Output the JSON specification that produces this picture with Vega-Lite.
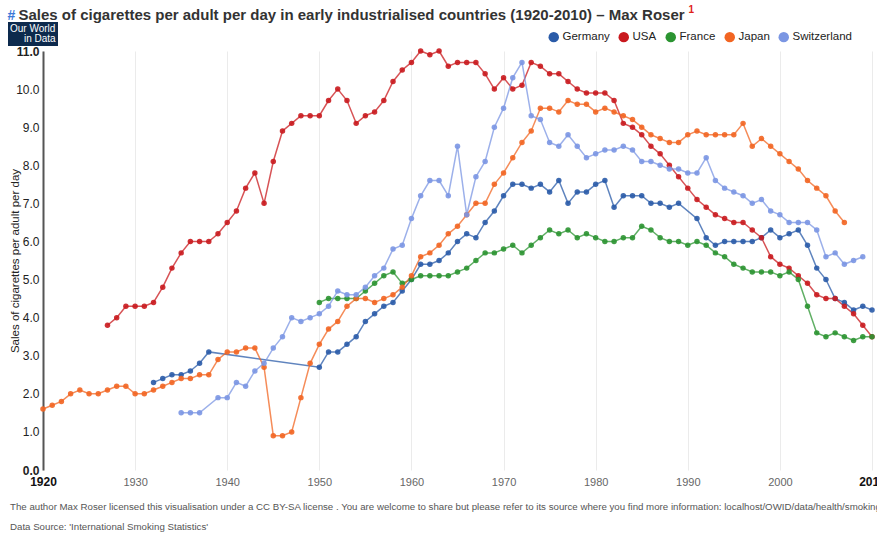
{
  "$schema": "https://vega.github.io/schema/vega-lite/v6.json",
  "width": 829,
  "height": 419,
  "autosize": {"type": "none"},
  "padding": {"left": 43, "top": 51, "right": 5, "bottom": 63},
  "background": "white",
  "config": {"font": "Liberation Sans", "view": {"stroke": null}},
  "title": {
    "text": "The author Max Roser licensed this visualisation under a CC BY-SA license . You are welcome to share but please refer to its source where you  find more information: localhost/OWID/data/health/smoking",
    "subtitle": "Data Source: 'International Smoking Statistics'",
    "orient": "bottom",
    "anchor": "start",
    "frame": "group",
    "dx": -33,
    "offset": 15,
    "font": "Liberation Sans",
    "fontSize": 9.7,
    "fontWeight": "normal",
    "color": "#555555",
    "subtitleFont": "Liberation Sans",
    "subtitleFontSize": 9.7,
    "subtitleColor": "#555555",
    "subtitlePadding": 10
  },
  "data": {
    "values": [
      {"country": "Germany", "year": 1932, "value": 2.3}, {"country": "Germany", "year": 1933, "value": 2.4}, {"country": "Germany", "year": 1934, "value": 2.5}, {"country": "Germany", "year": 1935, "value": 2.5}, {"country": "Germany", "year": 1936, "value": 2.6}, {"country": "Germany", "year": 1937, "value": 2.8}, {"country": "Germany", "year": 1938, "value": 3.1}, {"country": "Germany", "year": 1950, "value": 2.7}, {"country": "Germany", "year": 1951, "value": 3.1}, {"country": "Germany", "year": 1952, "value": 3.1}, {"country": "Germany", "year": 1953, "value": 3.3}, {"country": "Germany", "year": 1954, "value": 3.5}, {"country": "Germany", "year": 1955, "value": 3.9}, {"country": "Germany", "year": 1956, "value": 4.1}, {"country": "Germany", "year": 1957, "value": 4.3}, {"country": "Germany", "year": 1958, "value": 4.4}, {"country": "Germany", "year": 1959, "value": 4.7}, {"country": "Germany", "year": 1960, "value": 5.0}, {"country": "Germany", "year": 1961, "value": 5.4}, {"country": "Germany", "year": 1962, "value": 5.4}, {"country": "Germany", "year": 1963, "value": 5.5}, {"country": "Germany", "year": 1964, "value": 5.7}, {"country": "Germany", "year": 1965, "value": 6.0}, {"country": "Germany", "year": 1966, "value": 6.2}, {"country": "Germany", "year": 1967, "value": 6.1}, {"country": "Germany", "year": 1968, "value": 6.5}, {"country": "Germany", "year": 1969, "value": 6.8}, {"country": "Germany", "year": 1970, "value": 7.2}, {"country": "Germany", "year": 1971, "value": 7.5}, {"country": "Germany", "year": 1972, "value": 7.5}, {"country": "Germany", "year": 1973, "value": 7.4}, {"country": "Germany", "year": 1974, "value": 7.5}, {"country": "Germany", "year": 1975, "value": 7.3}, {"country": "Germany", "year": 1976, "value": 7.6}, {"country": "Germany", "year": 1977, "value": 7.0}, {"country": "Germany", "year": 1978, "value": 7.3}, {"country": "Germany", "year": 1979, "value": 7.3}, {"country": "Germany", "year": 1980, "value": 7.5}, {"country": "Germany", "year": 1981, "value": 7.6}, {"country": "Germany", "year": 1982, "value": 6.9}, {"country": "Germany", "year": 1983, "value": 7.2}, {"country": "Germany", "year": 1984, "value": 7.2}, {"country": "Germany", "year": 1985, "value": 7.2}, {"country": "Germany", "year": 1986, "value": 7.0}, {"country": "Germany", "year": 1987, "value": 7.0}, {"country": "Germany", "year": 1988, "value": 6.9}, {"country": "Germany", "year": 1989, "value": 7.0}, {"country": "Germany", "year": 1991, "value": 6.6}, {"country": "Germany", "year": 1992, "value": 6.1}, {"country": "Germany", "year": 1993, "value": 5.9}, {"country": "Germany", "year": 1994, "value": 6.0}, {"country": "Germany", "year": 1995, "value": 6.0}, {"country": "Germany", "year": 1996, "value": 6.0}, {"country": "Germany", "year": 1997, "value": 6.0}, {"country": "Germany", "year": 1998, "value": 6.1}, {"country": "Germany", "year": 1999, "value": 6.3}, {"country": "Germany", "year": 2000, "value": 6.1}, {"country": "Germany", "year": 2001, "value": 6.2}, {"country": "Germany", "year": 2002, "value": 6.3}, {"country": "Germany", "year": 2003, "value": 5.9}, {"country": "Germany", "year": 2004, "value": 5.3}, {"country": "Germany", "year": 2005, "value": 5.0}, {"country": "Germany", "year": 2006, "value": 4.5}, {"country": "Germany", "year": 2007, "value": 4.4}, {"country": "Germany", "year": 2008, "value": 4.2}, {"country": "Germany", "year": 2009, "value": 4.3}, {"country": "Germany", "year": 2010, "value": 4.2},
      {"country": "USA", "year": 1927, "value": 3.8}, {"country": "USA", "year": 1928, "value": 4.0}, {"country": "USA", "year": 1929, "value": 4.3}, {"country": "USA", "year": 1930, "value": 4.3}, {"country": "USA", "year": 1931, "value": 4.3}, {"country": "USA", "year": 1932, "value": 4.4}, {"country": "USA", "year": 1933, "value": 4.8}, {"country": "USA", "year": 1934, "value": 5.3}, {"country": "USA", "year": 1935, "value": 5.7}, {"country": "USA", "year": 1936, "value": 6.0}, {"country": "USA", "year": 1937, "value": 6.0}, {"country": "USA", "year": 1938, "value": 6.0}, {"country": "USA", "year": 1939, "value": 6.2}, {"country": "USA", "year": 1940, "value": 6.5}, {"country": "USA", "year": 1941, "value": 6.8}, {"country": "USA", "year": 1942, "value": 7.4}, {"country": "USA", "year": 1943, "value": 7.8}, {"country": "USA", "year": 1944, "value": 7.0}, {"country": "USA", "year": 1945, "value": 8.1}, {"country": "USA", "year": 1946, "value": 8.9}, {"country": "USA", "year": 1947, "value": 9.1}, {"country": "USA", "year": 1948, "value": 9.3}, {"country": "USA", "year": 1949, "value": 9.3}, {"country": "USA", "year": 1950, "value": 9.3}, {"country": "USA", "year": 1951, "value": 9.7}, {"country": "USA", "year": 1952, "value": 10.0}, {"country": "USA", "year": 1953, "value": 9.7}, {"country": "USA", "year": 1954, "value": 9.1}, {"country": "USA", "year": 1955, "value": 9.3}, {"country": "USA", "year": 1956, "value": 9.4}, {"country": "USA", "year": 1957, "value": 9.7}, {"country": "USA", "year": 1958, "value": 10.2}, {"country": "USA", "year": 1959, "value": 10.5}, {"country": "USA", "year": 1960, "value": 10.7}, {"country": "USA", "year": 1961, "value": 11.0}, {"country": "USA", "year": 1962, "value": 10.9}, {"country": "USA", "year": 1963, "value": 11.0}, {"country": "USA", "year": 1964, "value": 10.6}, {"country": "USA", "year": 1965, "value": 10.7}, {"country": "USA", "year": 1966, "value": 10.7}, {"country": "USA", "year": 1967, "value": 10.7}, {"country": "USA", "year": 1968, "value": 10.4}, {"country": "USA", "year": 1969, "value": 10.0}, {"country": "USA", "year": 1970, "value": 10.3}, {"country": "USA", "year": 1971, "value": 10.0}, {"country": "USA", "year": 1972, "value": 10.1}, {"country": "USA", "year": 1973, "value": 10.7}, {"country": "USA", "year": 1974, "value": 10.6}, {"country": "USA", "year": 1975, "value": 10.4}, {"country": "USA", "year": 1976, "value": 10.4}, {"country": "USA", "year": 1977, "value": 10.2}, {"country": "USA", "year": 1978, "value": 10.0}, {"country": "USA", "year": 1979, "value": 9.9}, {"country": "USA", "year": 1980, "value": 9.9}, {"country": "USA", "year": 1981, "value": 9.9}, {"country": "USA", "year": 1982, "value": 9.7}, {"country": "USA", "year": 1983, "value": 9.1}, {"country": "USA", "year": 1984, "value": 9.0}, {"country": "USA", "year": 1985, "value": 8.8}, {"country": "USA", "year": 1986, "value": 8.5}, {"country": "USA", "year": 1987, "value": 8.3}, {"country": "USA", "year": 1988, "value": 8.0}, {"country": "USA", "year": 1989, "value": 7.7}, {"country": "USA", "year": 1990, "value": 7.4}, {"country": "USA", "year": 1991, "value": 7.1}, {"country": "USA", "year": 1992, "value": 6.9}, {"country": "USA", "year": 1993, "value": 6.7}, {"country": "USA", "year": 1994, "value": 6.6}, {"country": "USA", "year": 1995, "value": 6.5}, {"country": "USA", "year": 1996, "value": 6.5}, {"country": "USA", "year": 1997, "value": 6.3}, {"country": "USA", "year": 1998, "value": 6.1}, {"country": "USA", "year": 1999, "value": 5.6}, {"country": "USA", "year": 2000, "value": 5.4}, {"country": "USA", "year": 2001, "value": 5.3}, {"country": "USA", "year": 2002, "value": 5.1}, {"country": "USA", "year": 2003, "value": 4.9}, {"country": "USA", "year": 2004, "value": 4.6}, {"country": "USA", "year": 2005, "value": 4.5}, {"country": "USA", "year": 2006, "value": 4.5}, {"country": "USA", "year": 2007, "value": 4.3}, {"country": "USA", "year": 2008, "value": 4.1}, {"country": "USA", "year": 2009, "value": 3.8}, {"country": "USA", "year": 2010, "value": 3.5},
      {"country": "France", "year": 1950, "value": 4.4}, {"country": "France", "year": 1951, "value": 4.5}, {"country": "France", "year": 1952, "value": 4.5}, {"country": "France", "year": 1953, "value": 4.5}, {"country": "France", "year": 1954, "value": 4.5}, {"country": "France", "year": 1955, "value": 4.7}, {"country": "France", "year": 1956, "value": 4.9}, {"country": "France", "year": 1957, "value": 5.1}, {"country": "France", "year": 1958, "value": 5.2}, {"country": "France", "year": 1959, "value": 4.9}, {"country": "France", "year": 1960, "value": 5.0}, {"country": "France", "year": 1961, "value": 5.1}, {"country": "France", "year": 1962, "value": 5.1}, {"country": "France", "year": 1963, "value": 5.1}, {"country": "France", "year": 1964, "value": 5.1}, {"country": "France", "year": 1965, "value": 5.2}, {"country": "France", "year": 1966, "value": 5.3}, {"country": "France", "year": 1967, "value": 5.5}, {"country": "France", "year": 1968, "value": 5.7}, {"country": "France", "year": 1969, "value": 5.7}, {"country": "France", "year": 1970, "value": 5.8}, {"country": "France", "year": 1971, "value": 5.9}, {"country": "France", "year": 1972, "value": 5.7}, {"country": "France", "year": 1973, "value": 5.9}, {"country": "France", "year": 1974, "value": 6.1}, {"country": "France", "year": 1975, "value": 6.3}, {"country": "France", "year": 1976, "value": 6.2}, {"country": "France", "year": 1977, "value": 6.3}, {"country": "France", "year": 1978, "value": 6.1}, {"country": "France", "year": 1979, "value": 6.2}, {"country": "France", "year": 1980, "value": 6.1}, {"country": "France", "year": 1981, "value": 6.0}, {"country": "France", "year": 1982, "value": 6.0}, {"country": "France", "year": 1983, "value": 6.1}, {"country": "France", "year": 1984, "value": 6.1}, {"country": "France", "year": 1985, "value": 6.4}, {"country": "France", "year": 1986, "value": 6.3}, {"country": "France", "year": 1987, "value": 6.1}, {"country": "France", "year": 1988, "value": 6.0}, {"country": "France", "year": 1989, "value": 6.0}, {"country": "France", "year": 1990, "value": 5.9}, {"country": "France", "year": 1991, "value": 6.0}, {"country": "France", "year": 1992, "value": 5.9}, {"country": "France", "year": 1993, "value": 5.7}, {"country": "France", "year": 1994, "value": 5.6}, {"country": "France", "year": 1995, "value": 5.4}, {"country": "France", "year": 1996, "value": 5.3}, {"country": "France", "year": 1997, "value": 5.2}, {"country": "France", "year": 1998, "value": 5.2}, {"country": "France", "year": 1999, "value": 5.2}, {"country": "France", "year": 2000, "value": 5.1}, {"country": "France", "year": 2001, "value": 5.2}, {"country": "France", "year": 2002, "value": 5.0}, {"country": "France", "year": 2003, "value": 4.3}, {"country": "France", "year": 2004, "value": 3.6}, {"country": "France", "year": 2005, "value": 3.5}, {"country": "France", "year": 2006, "value": 3.6}, {"country": "France", "year": 2007, "value": 3.5}, {"country": "France", "year": 2008, "value": 3.4}, {"country": "France", "year": 2009, "value": 3.5}, {"country": "France", "year": 2010, "value": 3.5},
      {"country": "Japan", "year": 1920, "value": 1.6}, {"country": "Japan", "year": 1921, "value": 1.7}, {"country": "Japan", "year": 1922, "value": 1.8}, {"country": "Japan", "year": 1923, "value": 2.0}, {"country": "Japan", "year": 1924, "value": 2.1}, {"country": "Japan", "year": 1925, "value": 2.0}, {"country": "Japan", "year": 1926, "value": 2.0}, {"country": "Japan", "year": 1927, "value": 2.1}, {"country": "Japan", "year": 1928, "value": 2.2}, {"country": "Japan", "year": 1929, "value": 2.2}, {"country": "Japan", "year": 1930, "value": 2.0}, {"country": "Japan", "year": 1931, "value": 2.0}, {"country": "Japan", "year": 1932, "value": 2.1}, {"country": "Japan", "year": 1933, "value": 2.2}, {"country": "Japan", "year": 1934, "value": 2.3}, {"country": "Japan", "year": 1935, "value": 2.4}, {"country": "Japan", "year": 1936, "value": 2.4}, {"country": "Japan", "year": 1937, "value": 2.5}, {"country": "Japan", "year": 1938, "value": 2.5}, {"country": "Japan", "year": 1939, "value": 2.9}, {"country": "Japan", "year": 1940, "value": 3.1}, {"country": "Japan", "year": 1941, "value": 3.1}, {"country": "Japan", "year": 1942, "value": 3.2}, {"country": "Japan", "year": 1943, "value": 3.2}, {"country": "Japan", "year": 1944, "value": 2.7}, {"country": "Japan", "year": 1945, "value": 0.9}, {"country": "Japan", "year": 1946, "value": 0.9}, {"country": "Japan", "year": 1947, "value": 1.0}, {"country": "Japan", "year": 1948, "value": 1.9}, {"country": "Japan", "year": 1949, "value": 2.8}, {"country": "Japan", "year": 1950, "value": 3.3}, {"country": "Japan", "year": 1951, "value": 3.7}, {"country": "Japan", "year": 1952, "value": 3.9}, {"country": "Japan", "year": 1953, "value": 4.3}, {"country": "Japan", "year": 1954, "value": 4.5}, {"country": "Japan", "year": 1955, "value": 4.5}, {"country": "Japan", "year": 1956, "value": 4.4}, {"country": "Japan", "year": 1957, "value": 4.5}, {"country": "Japan", "year": 1958, "value": 4.6}, {"country": "Japan", "year": 1959, "value": 4.8}, {"country": "Japan", "year": 1960, "value": 5.1}, {"country": "Japan", "year": 1961, "value": 5.6}, {"country": "Japan", "year": 1962, "value": 5.7}, {"country": "Japan", "year": 1963, "value": 5.9}, {"country": "Japan", "year": 1964, "value": 6.2}, {"country": "Japan", "year": 1965, "value": 6.4}, {"country": "Japan", "year": 1966, "value": 6.7}, {"country": "Japan", "year": 1967, "value": 7.0}, {"country": "Japan", "year": 1968, "value": 7.0}, {"country": "Japan", "year": 1969, "value": 7.5}, {"country": "Japan", "year": 1970, "value": 7.8}, {"country": "Japan", "year": 1971, "value": 8.2}, {"country": "Japan", "year": 1972, "value": 8.6}, {"country": "Japan", "year": 1973, "value": 8.9}, {"country": "Japan", "year": 1974, "value": 9.5}, {"country": "Japan", "year": 1975, "value": 9.5}, {"country": "Japan", "year": 1976, "value": 9.4}, {"country": "Japan", "year": 1977, "value": 9.7}, {"country": "Japan", "year": 1978, "value": 9.6}, {"country": "Japan", "year": 1979, "value": 9.6}, {"country": "Japan", "year": 1980, "value": 9.4}, {"country": "Japan", "year": 1981, "value": 9.5}, {"country": "Japan", "year": 1982, "value": 9.4}, {"country": "Japan", "year": 1983, "value": 9.3}, {"country": "Japan", "year": 1984, "value": 9.2}, {"country": "Japan", "year": 1985, "value": 9.0}, {"country": "Japan", "year": 1986, "value": 8.8}, {"country": "Japan", "year": 1987, "value": 8.7}, {"country": "Japan", "year": 1988, "value": 8.6}, {"country": "Japan", "year": 1989, "value": 8.6}, {"country": "Japan", "year": 1990, "value": 8.8}, {"country": "Japan", "year": 1991, "value": 8.9}, {"country": "Japan", "year": 1992, "value": 8.8}, {"country": "Japan", "year": 1993, "value": 8.8}, {"country": "Japan", "year": 1994, "value": 8.8}, {"country": "Japan", "year": 1995, "value": 8.8}, {"country": "Japan", "year": 1996, "value": 9.1}, {"country": "Japan", "year": 1997, "value": 8.5}, {"country": "Japan", "year": 1998, "value": 8.7}, {"country": "Japan", "year": 1999, "value": 8.5}, {"country": "Japan", "year": 2000, "value": 8.3}, {"country": "Japan", "year": 2001, "value": 8.1}, {"country": "Japan", "year": 2002, "value": 7.9}, {"country": "Japan", "year": 2003, "value": 7.6}, {"country": "Japan", "year": 2004, "value": 7.4}, {"country": "Japan", "year": 2005, "value": 7.2}, {"country": "Japan", "year": 2006, "value": 6.8}, {"country": "Japan", "year": 2007, "value": 6.5},
      {"country": "Switzerland", "year": 1935, "value": 1.5}, {"country": "Switzerland", "year": 1936, "value": 1.5}, {"country": "Switzerland", "year": 1937, "value": 1.5}, {"country": "Switzerland", "year": 1939, "value": 1.9}, {"country": "Switzerland", "year": 1940, "value": 1.9}, {"country": "Switzerland", "year": 1941, "value": 2.3}, {"country": "Switzerland", "year": 1942, "value": 2.2}, {"country": "Switzerland", "year": 1943, "value": 2.6}, {"country": "Switzerland", "year": 1944, "value": 2.8}, {"country": "Switzerland", "year": 1945, "value": 3.2}, {"country": "Switzerland", "year": 1946, "value": 3.5}, {"country": "Switzerland", "year": 1947, "value": 4.0}, {"country": "Switzerland", "year": 1948, "value": 3.9}, {"country": "Switzerland", "year": 1949, "value": 4.0}, {"country": "Switzerland", "year": 1950, "value": 4.1}, {"country": "Switzerland", "year": 1951, "value": 4.3}, {"country": "Switzerland", "year": 1952, "value": 4.7}, {"country": "Switzerland", "year": 1953, "value": 4.6}, {"country": "Switzerland", "year": 1954, "value": 4.6}, {"country": "Switzerland", "year": 1955, "value": 4.8}, {"country": "Switzerland", "year": 1956, "value": 5.1}, {"country": "Switzerland", "year": 1957, "value": 5.3}, {"country": "Switzerland", "year": 1958, "value": 5.8}, {"country": "Switzerland", "year": 1959, "value": 5.9}, {"country": "Switzerland", "year": 1960, "value": 6.6}, {"country": "Switzerland", "year": 1961, "value": 7.2}, {"country": "Switzerland", "year": 1962, "value": 7.6}, {"country": "Switzerland", "year": 1963, "value": 7.6}, {"country": "Switzerland", "year": 1964, "value": 7.2}, {"country": "Switzerland", "year": 1965, "value": 8.5}, {"country": "Switzerland", "year": 1966, "value": 6.7}, {"country": "Switzerland", "year": 1967, "value": 7.7}, {"country": "Switzerland", "year": 1968, "value": 8.1}, {"country": "Switzerland", "year": 1969, "value": 9.0}, {"country": "Switzerland", "year": 1970, "value": 9.5}, {"country": "Switzerland", "year": 1971, "value": 10.3}, {"country": "Switzerland", "year": 1972, "value": 10.7}, {"country": "Switzerland", "year": 1973, "value": 9.3}, {"country": "Switzerland", "year": 1974, "value": 9.2}, {"country": "Switzerland", "year": 1975, "value": 8.6}, {"country": "Switzerland", "year": 1976, "value": 8.5}, {"country": "Switzerland", "year": 1977, "value": 8.8}, {"country": "Switzerland", "year": 1978, "value": 8.5}, {"country": "Switzerland", "year": 1979, "value": 8.2}, {"country": "Switzerland", "year": 1980, "value": 8.3}, {"country": "Switzerland", "year": 1981, "value": 8.4}, {"country": "Switzerland", "year": 1982, "value": 8.4}, {"country": "Switzerland", "year": 1983, "value": 8.5}, {"country": "Switzerland", "year": 1984, "value": 8.4}, {"country": "Switzerland", "year": 1985, "value": 8.1}, {"country": "Switzerland", "year": 1986, "value": 8.1}, {"country": "Switzerland", "year": 1987, "value": 8.0}, {"country": "Switzerland", "year": 1988, "value": 7.9}, {"country": "Switzerland", "year": 1989, "value": 7.9}, {"country": "Switzerland", "year": 1990, "value": 7.8}, {"country": "Switzerland", "year": 1991, "value": 7.8}, {"country": "Switzerland", "year": 1992, "value": 8.2}, {"country": "Switzerland", "year": 1993, "value": 7.6}, {"country": "Switzerland", "year": 1994, "value": 7.4}, {"country": "Switzerland", "year": 1995, "value": 7.3}, {"country": "Switzerland", "year": 1996, "value": 7.2}, {"country": "Switzerland", "year": 1997, "value": 7.0}, {"country": "Switzerland", "year": 1998, "value": 7.1}, {"country": "Switzerland", "year": 1999, "value": 6.8}, {"country": "Switzerland", "year": 2000, "value": 6.7}, {"country": "Switzerland", "year": 2001, "value": 6.5}, {"country": "Switzerland", "year": 2002, "value": 6.5}, {"country": "Switzerland", "year": 2003, "value": 6.5}, {"country": "Switzerland", "year": 2004, "value": 6.3}, {"country": "Switzerland", "year": 2005, "value": 5.6}, {"country": "Switzerland", "year": 2006, "value": 5.7}, {"country": "Switzerland", "year": 2007, "value": 5.4}, {"country": "Switzerland", "year": 2008, "value": 5.5}, {"country": "Switzerland", "year": 2009, "value": 5.6}
    ]
  },
  "layer": [
    {
      "mark": {"type": "line", "strokeWidth": 1.5, "strokeOpacity": 0.75, "point": {"filled": true, "size": 30, "opacity": 0.9}},
      "encoding": {
        "x": {
          "field": "year", "type": "quantitative",
          "scale": {"domain": [1920, 2010], "nice": false, "zero": false},
          "axis": {
            "values": [1920, 1930, 1940, 1950, 1960, 1970, 1980, 1990, 2000, 2010],
            "format": "d", "domain": false, "ticks": false, "grid": true, "gridColor": "#ebebeb", "gridWidth": 1,
            "labelFlush": false, "labelOverlap": false, "labelBound": false,
            "labelPadding": 6, "labelFont": "Liberation Sans",
            "labelFontSize": {"condition": {"test": "datum.value == 1920 || datum.value == 2010", "value": 12}, "value": 11},
            "labelFontWeight": {"condition": {"test": "datum.value == 1920 || datum.value == 2010", "value": "bold"}, "value": "normal"},
            "labelColor": {"condition": {"test": "datum.value == 1920 || datum.value == 2010", "value": "#111111"}, "value": "#666666"},
            "title": "Sales of cigarettes per adult per day in early industrialised countries (1920-2010) – Max Roser",
            "titleX": -25, "titleY": -451, "titleAlign": "left", "titleBaseline": "alphabetic",
            "titleFont": "Liberation Sans", "titleFontSize": 15, "titleFontWeight": "bold", "titleColor": "#333333"
          }
        },
        "y": {
          "field": "value", "type": "quantitative",
          "scale": {"domain": [0, 11], "nice": false},
          "axis": {
            "values": [0, 1, 2, 3, 4, 5, 6, 7, 8, 9, 10, 11], "format": ".1f",
            "grid": false, "ticks": false, "domain": true, "domainColor": "#555555", "domainWidth": 2,
            "labelPadding": 4, "labelFont": "Liberation Sans", "labelFontSize": 12, "labelColor": "#222222",
            "labelFontWeight": {"condition": {"test": "datum.value == 0 || datum.value == 11", "value": "bold"}, "value": "normal"},
            "title": "Sales of cigarettes per adult per day",
            "titleX": -28, "titleY": 209.5, "titleAlign": "center", "titleBaseline": "middle",
            "titleFont": "Liberation Sans", "titleFontSize": 11.5, "titleFontWeight": "normal", "titleColor": "#222222"
          }
        },
        "color": {
          "field": "country", "type": "nominal",
          "scale": {"domain": ["Germany", "USA", "France", "Japan", "Switzerland"], "range": ["#2a5ba8", "#c9191e", "#2b9431", "#f26522", "#7b96e3"]},
          "legend": {
            "orient": "none", "legendX": 505, "legendY": -20, "direction": "horizontal", "title": null,
            "symbolType": "circle", "symbolSize": 110, "symbolStrokeWidth": 0,
            "labelFont": "Liberation Sans", "labelFontSize": 11.5, "labelColor": "#222222", "labelOffset": 3, "columnPadding": 8,
            "encode": {"symbols": {"update": {"fill": {"scale": "color", "field": "value"}, "fillOpacity": {"value": 1}, "strokeWidth": {"value": 0}}}}
          }
        }
      }
    },
    {
      "mark": {"type": "point", "opacity": 0},
      "encoding": {
        "x": {
          "field": "year", "type": "quantitative",
          "axis": {
            "orient": "top", "labels": false, "ticks": false, "domain": false, "grid": false,
            "title": "#", "titleX": -36, "titleY": -32, "titleAlign": "left", "titleBaseline": "alphabetic",
            "titleFont": "Liberation Sans", "titleFontSize": 14, "titleFontWeight": "bold", "titleColor": "#3b78d8"
          }
        },
        "y": {
          "field": "value", "type": "quantitative",
          "axis": {
            "orient": "right", "labels": false, "ticks": false, "domain": false, "grid": false,
            "title": "1", "titleAngle": 0, "titleX": -184, "titleY": -39, "titleAlign": "left", "titleBaseline": "alphabetic",
            "titleFont": "Liberation Sans", "titleFontSize": 10, "titleFontWeight": "bold", "titleColor": "#e0201a"
          }
        },
        "shape": {
          "datum": "in Data",
          "legend": {
            "orient": "none", "legendX": -35, "legendY": -29,
            "title": "Our World", "titleColor": "#ffffff", "titleFont": "Liberation Sans", "titleFontSize": 10, "titleFontWeight": "normal", "titlePadding": 0,
            "labelColor": "#ffffff", "labelFont": "Liberation Sans", "labelFontSize": 10, "labelOffset": 4,
            "fillColor": "#0d2a4d", "padding": 2, "symbolSize": 0, "symbolOpacity": 0, "symbolStrokeWidth": 0
          }
        }
      }
    }
  ],
  "resolve": {"axis": {"x": "independent", "y": "independent"}}
}
